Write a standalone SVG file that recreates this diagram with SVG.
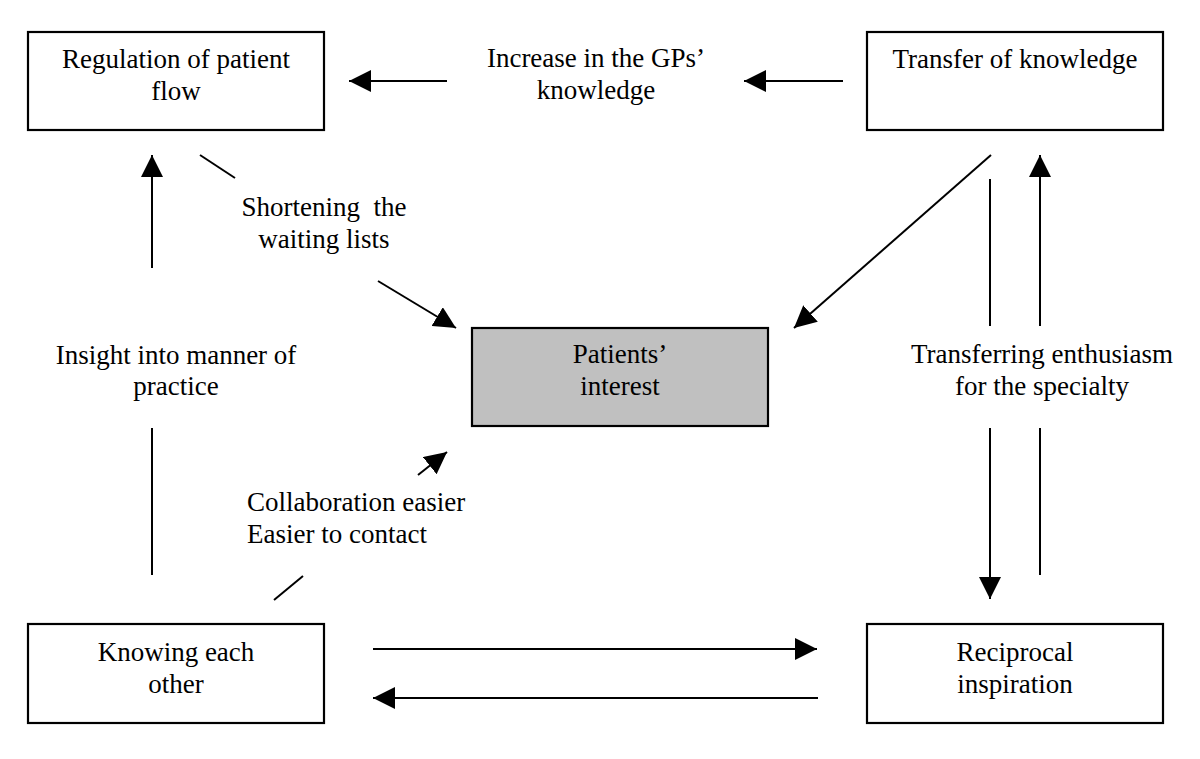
<svg xmlns="http://www.w3.org/2000/svg" width="1200" height="759" viewBox="0 0 1200 759">
<style>
.box{fill:#fff;stroke:#000;stroke-width:2.2}
.gray{fill:#c0c0c0}
.t{font-family:"Liberation Serif","Times New Roman",serif;font-size:27px;fill:#000;text-anchor:middle;white-space:pre}
.l{text-anchor:start}
.c{stroke:#000;stroke-width:2;fill:none}
.a{marker-end:url(#ah)}
</style>
<defs>
<marker id="ah" markerUnits="userSpaceOnUse" markerWidth="22" markerHeight="22" viewBox="0 0 20 20" refX="20" refY="10" orient="auto">
<path d="M0,0 L20,10 L0,20 z" fill="#000"/>
</marker>
</defs>
<rect width="1200" height="759" fill="#fff"/>
<g id="n-regulation">
<rect class="box" x="28" y="32" width="296" height="98"/>
<text class="t" x="176" y="68">Regulation of patient</text>
<text class="t" x="176" y="100">flow</text>
</g>
<g id="n-transfer">
<rect class="box" x="867" y="32" width="296" height="98"/>
<text class="t" x="1015" y="68">Transfer of knowledge</text>
</g>
<g id="n-patients">
<rect class="box gray" x="472" y="328" width="296" height="98"/>
<text class="t" x="620" y="363">Patients’</text>
<text class="t" x="620" y="395">interest</text>
</g>
<g id="n-knowing">
<rect class="box" x="28" y="624" width="296" height="99"/>
<text class="t" x="176" y="661">Knowing each</text>
<text class="t" x="176" y="693">other</text>
</g>
<g id="n-reciprocal">
<rect class="box" x="867" y="624" width="296" height="99"/>
<text class="t" x="1015" y="661">Reciprocal</text>
<text class="t" x="1015" y="693">inspiration</text>
</g>
<g id="connectors">
<line class="c a" x1="447" y1="81" x2="349" y2="81"/>
<line class="c a" x1="843" y1="81" x2="744" y2="81"/>
<text class="t" x="596" y="67">Increase in the GPs’</text>
<text class="t" x="596" y="99">knowledge</text>

<line class="c a" x1="152" y1="268" x2="152" y2="155"/>
<line class="c" x1="152" y1="428" x2="152" y2="575"/>
<text class="t" x="176" y="364">Insight into manner of</text>
<text class="t" x="176" y="395">practice</text>

<line class="c" x1="200" y1="155" x2="235" y2="178"/>
<line class="c a" x1="378" y1="281" x2="456" y2="328"/>
<text class="t" x="324" y="216">Shortening  the</text>
<text class="t" x="324" y="248">waiting lists</text>

<line class="c a" x1="991" y1="155" x2="794" y2="328"/>

<line class="c" x1="990" y1="179" x2="990" y2="326"/>
<line class="c a" x1="990" y1="428" x2="990" y2="599"/>
<line class="c" x1="1040" y1="428" x2="1040" y2="575"/>
<line class="c a" x1="1040" y1="326" x2="1040" y2="155"/>
<text class="t" x="1042" y="363">Transferring enthusiasm</text>
<text class="t" x="1042" y="395">for the specialty</text>

<line class="c" x1="274" y1="600" x2="303" y2="576"/>
<line class="c a" x1="418" y1="475" x2="447" y2="452"/>
<text class="t l" x="247" y="511">Collaboration easier</text>
<text class="t l" x="247" y="543">Easier to contact</text>

<line class="c a" x1="373" y1="649" x2="817" y2="649"/>
<line class="c a" x1="818" y1="698" x2="373" y2="698"/>
</g>
</svg>
